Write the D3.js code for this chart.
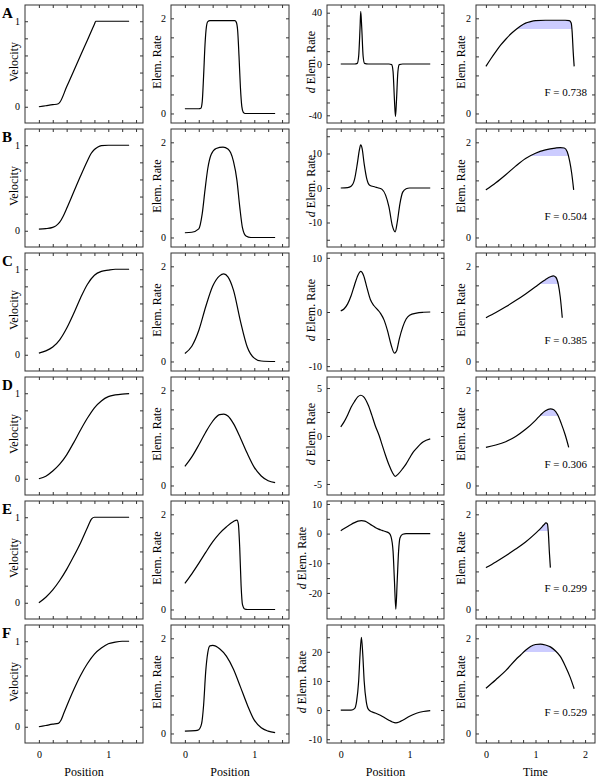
<!DOCTYPE html>
<html><head><meta charset="utf-8">
<script src="https://cdn.jsdelivr.net/npm/d3@7"></script>
<style>
body{margin:0;background:#fff}
text{font-family:"Liberation Serif","Times New Roman",serif;fill:#000}
</style>
</head><body><svg id="c" width="600" height="780"></svg>
<script>
// ---------------- data ----------------
const rowLabels = ["A","B","C","D","E","F"];
const fValues = [0.738, 0.504, 0.385, 0.306, 0.299, 0.529];

const positionTicks = [0,0.2,0.4,0.6,0.8,1,1.2,1.4];
const positionLabels = [0,1];
const timeTicks = [0,0.25,0.5,0.75,1,1.25,1.5,1.75,2];
const timeLabels = [0,1,2];
const velocityTicks = [0,0.2,0.4,0.6,0.8,1];
const velocityLabels = [0,1];
const rateTicks = [0,0.4,0.8,1.2,1.6,2];
const rateLabels = [0,2];
const dRateTicks = [
  [-40,-30,-20,-10,0,10,20,30,40],
  [-15,-10,-5,0,5,10,15],
  [-10,-5,0,5,10],
  [-5,-2.5,0,2.5,5],
  [-25,-20,-15,-10,-5,0,5,10],
  [-10,-5,0,5,10,15,20,25]
];
const dRateLabels = [[-40,0,40],[-10,0,10],[-10,0,10],[-5,0,5],[-20,-10,0,10],[-10,0,10,20]];
const dRateDomains = [[-46,46],[-17.1,17.1],[-10.9,10.9],[-6.15,6.15],[-28.8,11],[-11.3,29.2]];

// Row A
const velocityA = [[0,0],[0.1,0.012],[0.2,0.024],[0.28,0.035],[0.3,0.05],[0.4,0.233],[0.5,0.416],[0.6,0.6],[0.7,0.78],[0.8,0.965],[0.82,1.0],[0.9,1.0],[1.3,1.0]];
const rateA = [[0,0.1],[0.2,0.1],[0.23,0.11],[0.25,0.25],[0.27,0.8],[0.29,1.45],[0.31,1.82],[0.33,1.93],[0.36,1.95],[0.72,1.95],[0.74,1.92],[0.76,1.75],[0.78,1.2],[0.8,0.55],[0.82,0.15],[0.84,0.03],[0.87,0],[1.3,0]];
const dRateA = [[0,0],[0.2,0],[0.24,0.5],[0.26,6],[0.28,28],[0.29,41],[0.305,28],[0.325,6],[0.345,0.5],[0.4,0],[0.7,0],[0.74,-0.5],[0.76,-6],[0.78,-28],[0.795,-41],[0.81,-28],[0.83,-6],[0.85,-0.5],[0.9,0],[1.3,0]];
const rateTimeA = [[0,0.99],[0.1,1.15],[0.2,1.3],[0.3,1.44],[0.4,1.56],[0.5,1.67],[0.6,1.76],[0.7,1.84],[0.8,1.9],[0.9,1.93],[1.0,1.95],[1.2,1.96],[1.6,1.96],[1.68,1.95],[1.72,1.9],[1.74,1.7],[1.76,1.3],[1.78,0.99]];

// Row B
const velocityB = [[0,0.02],[0.1,0.025],[0.2,0.04],[0.25,0.06],[0.3,0.1],[0.35,0.17],[0.4,0.26],[0.5,0.45],[0.6,0.64],[0.7,0.82],[0.75,0.9],[0.8,0.95],[0.85,0.98],[0.9,0.995],[1.0,1.0],[1.3,1.0]];
const rateB = [[0,0.1],[0.1,0.11],[0.2,0.18],[0.25,0.5],[0.29,1.0],[0.33,1.45],[0.38,1.75],[0.45,1.87],[0.55,1.9],[0.62,1.86],[0.66,1.78],[0.7,1.6],[0.75,1.2],[0.79,0.65],[0.83,0.2],[0.88,0.03],[0.95,0],[1.3,0]];
const dRateB = [[0,0],[0.1,0.1],[0.15,0.5],[0.2,2.5],[0.24,7],[0.27,11],[0.29,12.5],[0.31,11.5],[0.34,7],[0.38,2.5],[0.42,0.8],[0.5,0.3],[0.55,0],[0.6,-0.4],[0.65,-2],[0.7,-5.5],[0.75,-11],[0.79,-12.7],[0.82,-10],[0.86,-4.5],[0.9,-1.2],[0.95,-0.2],[1.0,0],[1.3,0]];
const rateTimeB = [[0,1.0],[0.2,1.15],[0.4,1.32],[0.6,1.5],[0.8,1.66],[1.0,1.77],[1.2,1.84],[1.4,1.88],[1.5,1.89],[1.58,1.88],[1.64,1.8],[1.69,1.6],[1.73,1.35],[1.77,1.0]];

// Row C
const velocityC = [[0,0.02],[0.1,0.045],[0.2,0.09],[0.3,0.175],[0.4,0.31],[0.5,0.48],[0.6,0.665],[0.7,0.825],[0.8,0.93],[0.9,0.975],[1.0,0.99],[1.1,1.0],[1.3,1.0]];
const rateC = [[0,0.17],[0.1,0.32],[0.2,0.65],[0.3,1.15],[0.4,1.58],[0.5,1.8],[0.56,1.84],[0.62,1.78],[0.7,1.5],[0.8,0.85],[0.9,0.3],[1.0,0.07],[1.1,0.01],[1.3,0]];
const dRateC = [[0,0.2],[0.05,0.6],[0.1,1.5],[0.15,3],[0.2,5],[0.25,6.8],[0.29,7.5],[0.33,6.8],[0.38,4.5],[0.43,2.3],[0.48,1.2],[0.53,0.5],[0.58,-0.3],[0.63,-1.5],[0.68,-3.5],[0.73,-6],[0.78,-7.6],[0.81,-7.2],[0.85,-5],[0.9,-2.8],[0.95,-1.3],[1.0,-0.6],[1.1,-0.2],[1.2,-0.05],[1.3,0]];
const rateTimeC = [[0,0.92],[0.2,1.03],[0.4,1.15],[0.6,1.28],[0.8,1.42],[1.0,1.57],[1.1,1.65],[1.2,1.72],[1.3,1.78],[1.36,1.8],[1.41,1.77],[1.46,1.62],[1.5,1.35],[1.54,0.92]];

// Row D
const velocityD = [[0,0],[0.1,0.03],[0.2,0.09],[0.3,0.17],[0.4,0.28],[0.5,0.42],[0.6,0.57],[0.7,0.71],[0.8,0.83],[0.9,0.91],[1.0,0.96],[1.1,0.98],[1.2,0.99],[1.3,0.995]];
const rateD = [[0,0.4],[0.1,0.6],[0.2,0.85],[0.3,1.12],[0.4,1.35],[0.5,1.49],[0.56,1.5],[0.62,1.46],[0.7,1.3],[0.8,1.0],[0.9,0.67],[1.0,0.38],[1.1,0.2],[1.2,0.1],[1.3,0.06]];
const dRateD = [[0,0.95],[0.05,1.5],[0.1,2.2],[0.15,3.0],[0.2,3.6],[0.25,4.1],[0.29,4.25],[0.33,4.1],[0.4,3.2],[0.45,2.2],[0.5,1.1],[0.56,0],[0.6,-0.9],[0.65,-2.0],[0.7,-3.0],[0.75,-3.8],[0.79,-4.2],[0.83,-4.0],[0.9,-3.4],[0.95,-2.9],[1.0,-2.3],[1.05,-1.7],[1.1,-1.3],[1.15,-0.9],[1.2,-0.6],[1.3,-0.3]];
const rateTimeD = [[0,0.8],[0.2,0.85],[0.4,0.92],[0.6,1.03],[0.8,1.18],[1.0,1.37],[1.1,1.48],[1.2,1.57],[1.3,1.61],[1.37,1.59],[1.45,1.48],[1.52,1.3],[1.6,1.06],[1.67,0.8]];

// Row E
const velocityE = [[0,0],[0.1,0.065],[0.2,0.15],[0.3,0.26],[0.4,0.39],[0.5,0.54],[0.6,0.7],[0.7,0.88],[0.76,0.98],[0.8,1.0],[1.3,1.0]];
const rateE = [[0,0.55],[0.1,0.75],[0.2,0.97],[0.3,1.2],[0.4,1.42],[0.5,1.6],[0.6,1.74],[0.7,1.85],[0.75,1.88],[0.77,1.8],[0.79,1.3],[0.81,0.5],[0.83,0.1],[0.86,0.01],[0.9,0],[1.3,0]];
const dRateE = [[0,1.0],[0.05,1.7],[0.1,2.4],[0.15,3.1],[0.2,3.7],[0.25,4.2],[0.3,4.4],[0.35,4.2],[0.4,3.6],[0.45,2.8],[0.5,2.1],[0.55,1.5],[0.6,1.1],[0.65,0.7],[0.7,0.2],[0.73,-1],[0.76,-6],[0.78,-16],[0.8,-25.5],[0.82,-16],[0.84,-6],[0.86,-1.5],[0.9,-0.2],[0.95,0],[1.3,0]];
const rateTimeE = [[0,0.88],[0.2,1.0],[0.4,1.13],[0.6,1.27],[0.8,1.42],[1.0,1.6],[1.1,1.7],[1.17,1.78],[1.21,1.82],[1.24,1.8],[1.26,1.6],[1.28,1.2],[1.3,0.88]];

// Row F
const velocityF = [[0,0],[0.1,0.015],[0.2,0.03],[0.28,0.04],[0.32,0.08],[0.36,0.16],[0.4,0.24],[0.5,0.43],[0.6,0.6],[0.7,0.74],[0.8,0.85],[0.9,0.92],[1.0,0.97],[1.1,0.99],[1.2,1.0],[1.3,1.0]];
const rateF = [[0,0.05],[0.15,0.06],[0.2,0.08],[0.24,0.2],[0.27,0.6],[0.3,1.3],[0.33,1.7],[0.36,1.84],[0.4,1.85],[0.5,1.78],[0.6,1.62],[0.7,1.35],[0.8,0.98],[0.9,0.6],[1.0,0.28],[1.1,0.12],[1.2,0.05],[1.3,0.02]];
const dRateF = [[0,0],[0.15,0],[0.2,0.5],[0.23,3],[0.26,10],[0.28,19],[0.3,25],[0.32,19],[0.34,10],[0.37,3],[0.4,0.3],[0.45,-0.6],[0.5,-1.0],[0.55,-1.5],[0.6,-2.1],[0.65,-2.8],[0.7,-3.5],[0.75,-4.1],[0.8,-4.4],[0.85,-4.1],[0.9,-3.5],[0.95,-2.8],[1.0,-2.1],[1.1,-1.1],[1.2,-0.5],[1.3,-0.2]];
const rateTimeF = [[0,0.95],[0.2,1.13],[0.4,1.32],[0.6,1.55],[0.7,1.65],[0.8,1.75],[0.9,1.83],[1.0,1.87],[1.1,1.88],[1.2,1.86],[1.3,1.82],[1.4,1.74],[1.5,1.62],[1.6,1.42],[1.7,1.18],[1.78,0.94]];

const velocity = [velocityA,velocityB,velocityC,velocityD,velocityE,velocityF];
const rate = [rateA,rateB,rateC,rateD,rateE,rateF];
const dRate = [dRateA,dRateB,dRateC,dRateD,dRateE,dRateF];
const rateTime = [rateTimeA,rateTimeB,rateTimeC,rateTimeD,rateTimeE,rateTimeF];

// ---------------- layout ----------------
const svg = d3.select("#c");
const colX = [25,171,327,476];
const colW = [118,118,117,119];
const rowY = [5,129,253,377,501,625];
const rowH = 118;
const titleX = [14,157,311,461];
const dTitleX = [311,311,311,311,302,302];
const frameColor = "#333";
const fmt = d => d < 0 ? "-" + Math.abs(d) : String(d);
let clipId = 0;

function panel(r, c, data, xDom, yDom, xT, yT, xL, yL, yTitle, xTitle, shade) {
  const w = colW[c], h = rowH;
  const g = svg.append("g").attr("transform", `translate(${colX[c]},${rowY[r]})`);
  const x = d3.scaleLinear().domain(xDom).range([0, w]);
  const y = d3.scaleLinear().domain(yDom).range([h, 0]);
  const line = d3.line().x(d => x(d[0])).y(d => y(d[1])).curve(d3.curveMonotoneX);

  if (shade) {
    const thr = 0.9 * d3.max(data, d => d[1]);
    const id = "clip" + (clipId++);
    g.append("clipPath").attr("id", id).append("rect")
      .attr("x", 0).attr("y", 0).attr("width", w).attr("height", Math.floor(y(thr)));
    const area = d3.area().x(d => x(d[0])).y0(y(thr)).y1(d => y(d[1])).curve(d3.curveMonotoneX);
    g.append("path").datum(data).attr("d", area)
      .attr("fill", "#ccccff").attr("clip-path", `url(#${id})`);
  }

  g.append("path").datum(data).attr("d", line)
    .attr("fill", "none").attr("stroke", "#000").attr("stroke-width", 1.2);

  // inward ticks on all four sides
  const tickStyle = sel => {
    sel.select(".domain").remove();
    sel.selectAll("line").attr("stroke", frameColor);
  };
  g.append("g").attr("transform", `translate(0,${h})`)
    .call(d3.axisBottom(x).tickValues(xT).tickSize(-3).tickFormat("")).call(tickStyle);
  g.append("g").call(d3.axisTop(x).tickValues(xT).tickSize(-3).tickFormat("")).call(tickStyle);
  g.append("g").call(d3.axisLeft(y).tickValues(yT).tickSize(-3).tickFormat("")).call(tickStyle);
  g.append("g").attr("transform", `translate(${w},0)`)
    .call(d3.axisRight(y).tickValues(yT).tickSize(-3).tickFormat("")).call(tickStyle);

  g.append("rect").attr("width", w).attr("height", h)
    .attr("fill", "none").attr("stroke", frameColor).attr("stroke-width", 1);

  // y tick labels
  const ya = g.append("g").call(d3.axisLeft(y).tickValues(yL).tickSize(0).tickPadding(5).tickFormat(fmt));
  ya.select(".domain").remove();
  ya.selectAll("text").attr("font-family", "Liberation Serif").attr("font-size", 10);

  // y title
  const tx = c === 2 ? dTitleX[r] : titleX[c];
  const t = svg.append("text")
    .attr("transform", `translate(${tx},${rowY[r] + h / 2 - 2}) rotate(-90)`)
    .attr("text-anchor", "middle").attr("dy", "0.35em").attr("font-size", 12);
  if (c === 2) {
    t.append("tspan").attr("font-style", "italic").text("d");
    t.append("tspan").text(" Elem. Rate");
  } else {
    t.text(yTitle);
  }

  if (xTitle) {
    const xa = g.append("g").attr("transform", `translate(0,${h})`)
      .call(d3.axisBottom(x).tickValues(xL).tickSize(0).tickPadding(8).tickFormat(fmt));
    xa.select(".domain").remove();
    xa.selectAll("text").attr("font-family", "Liberation Serif").attr("font-size", 10);
    g.append("text").attr("x", w / 2).attr("y", h + 33)
      .attr("text-anchor", "middle").attr("font-size", 12).text(xTitle);
  }
  return { g, x, y };
}

const posDom = [-0.2, 1.5];
const timeDom = [-0.2, 2.2];
const velDom = [-0.19, 1.19];
const rateDom = [-0.2, 2.28];

rowLabels.forEach((lab, r) => {
  const last = r === rowLabels.length - 1;
  panel(r, 0, velocity[r], posDom, velDom, positionTicks, velocityTicks, positionLabels, velocityLabels, "Velocity", last ? "Position" : null, false);
  panel(r, 1, rate[r], posDom, rateDom, positionTicks, rateTicks, positionLabels, rateLabels, "Elem. Rate", last ? "Position" : null, false);
  panel(r, 2, dRate[r], posDom, dRateDomains[r], positionTicks, dRateTicks[r], positionLabels, dRateLabels[r], "d Elem. Rate", last ? "Position" : null, false);
  const p4 = panel(r, 3, rateTime[r], timeDom, rateDom, timeTicks, rateTicks, timeLabels, rateLabels, "Elem. Rate", last ? "Time" : null, true);
  p4.g.append("text").attr("x", colW[3] - 8).attr("y", p4.y(0.37))
    .attr("text-anchor", "end").attr("font-size", 11).text("F = " + fValues[r].toFixed(3));

  svg.append("text").attr("x", 2).attr("y", rowY[r] + 13)
    .attr("font-size", 15).attr("font-weight", "bold").text(lab);
});
</script>
</body></html>
